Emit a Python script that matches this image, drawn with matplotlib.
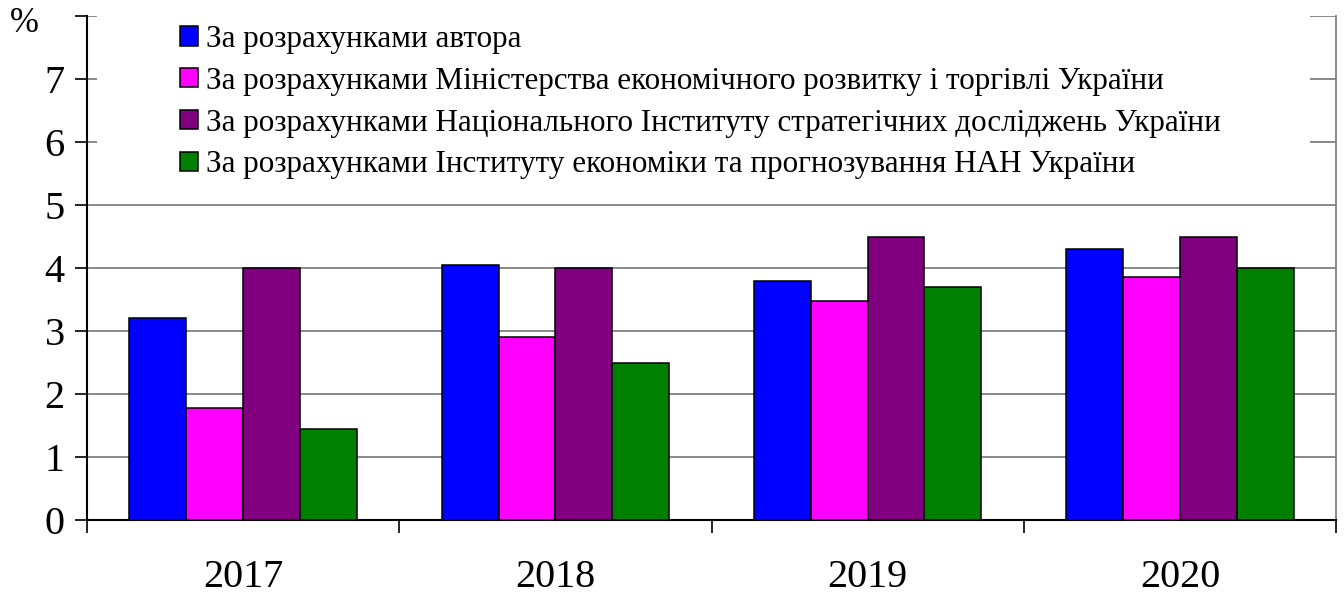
import matplotlib
matplotlib.use("Agg")
import matplotlib.pyplot as plt
import numpy as np
from matplotlib.patches import Rectangle

years = ["2017", "2018", "2019", "2020"]
series_names = [
    "За розрахунками автора",
    "За розрахунками Міністерства економічного розвитку і торгівлі України",
    "За розрахунками Національного Інституту стратегічних досліджень України",
    "За розрахунками Інституту економіки та прогнозування НАН України",
]
author = [3.2, 4.05, 3.8, 4.3]
ministry = [1.77, 2.9, 3.47, 3.85]
nisd = [4.0, 4.0, 4.5, 4.5]
iep = [1.45, 2.5, 3.7, 4.0]
colors = ["#0000ff", "#ff00ff", "#800080", "#008000"]

plt.rcParams["font.family"] = ["Liberation Serif", "DejaVu Serif"]

fig = plt.figure(figsize=(13.44, 5.97), dpi=100)
ax = fig.add_axes([87 / 1344, 1 - 520 / 597, 1249 / 1344, 504 / 597])

x = np.arange(len(years))
width = 0.182
series = [author, ministry, nisd, iep]
for i, vals in enumerate(series):
    ax.bar(x + (i - 1.5) * width, vals, width, color=colors[i], edgecolor="black",
           linewidth=1.1, label=series_names[i], zorder=3)

ax.set_xlim(-0.5, 3.5)
ax.set_ylim(0, 8)
ax.set_yticks(range(9))
ax.set_yticklabels([str(v) for v in range(8)] + [""])
ax.yaxis.grid(True, color="#808080", linewidth=1.3, zorder=0)
ax.set_axisbelow(True)
ax.tick_params(axis="y", direction="out", length=9, width=1.2, pad=7, labelsize=29)

ax.set_xticks(np.arange(-0.5, 4, 1))
ax.set_xticklabels([])
ax.set_xticks(x, minor=True)
ax.set_xticklabels(years, minor=True)
ax.tick_params(axis="x", which="major", direction="out", length=9, width=1.2)
ax.tick_params(axis="x", which="minor", length=0, pad=28, labelsize=29)

ax.spines["top"].set_visible(False)
ax.spines["right"].set_color("#808080")
ax.spines["right"].set_linewidth(1.3)
ax.spines["left"].set_linewidth(1.5)
ax.spines["bottom"].set_linewidth(1.5)

# white legend area covering gridlines
trans = ax.transAxes
ax.add_patch(Rectangle(((97 - 87) / 1249, (520 - 185) / 504), (1310 - 97) / 1249, 185 / 504,
                       transform=trans, facecolor="white", edgecolor="none",
                       zorder=1, clip_on=False))

leg = ax.legend(loc="upper left", bbox_to_anchor=(180 / 1344, 1 - 25 / 597),
                bbox_transform=fig.transFigure, frameon=False, fontsize=22.4,
                handlelength=0.58, handleheight=0.58, handletextpad=0.25,
                labelspacing=0.41, borderpad=0, borderaxespad=0)
leg.set_zorder(5)

fig.text(24 / 1344, 1 - 24 / 597, "%", fontsize=25, ha="center", va="center")

fig.savefig("out.png", dpi=100)
